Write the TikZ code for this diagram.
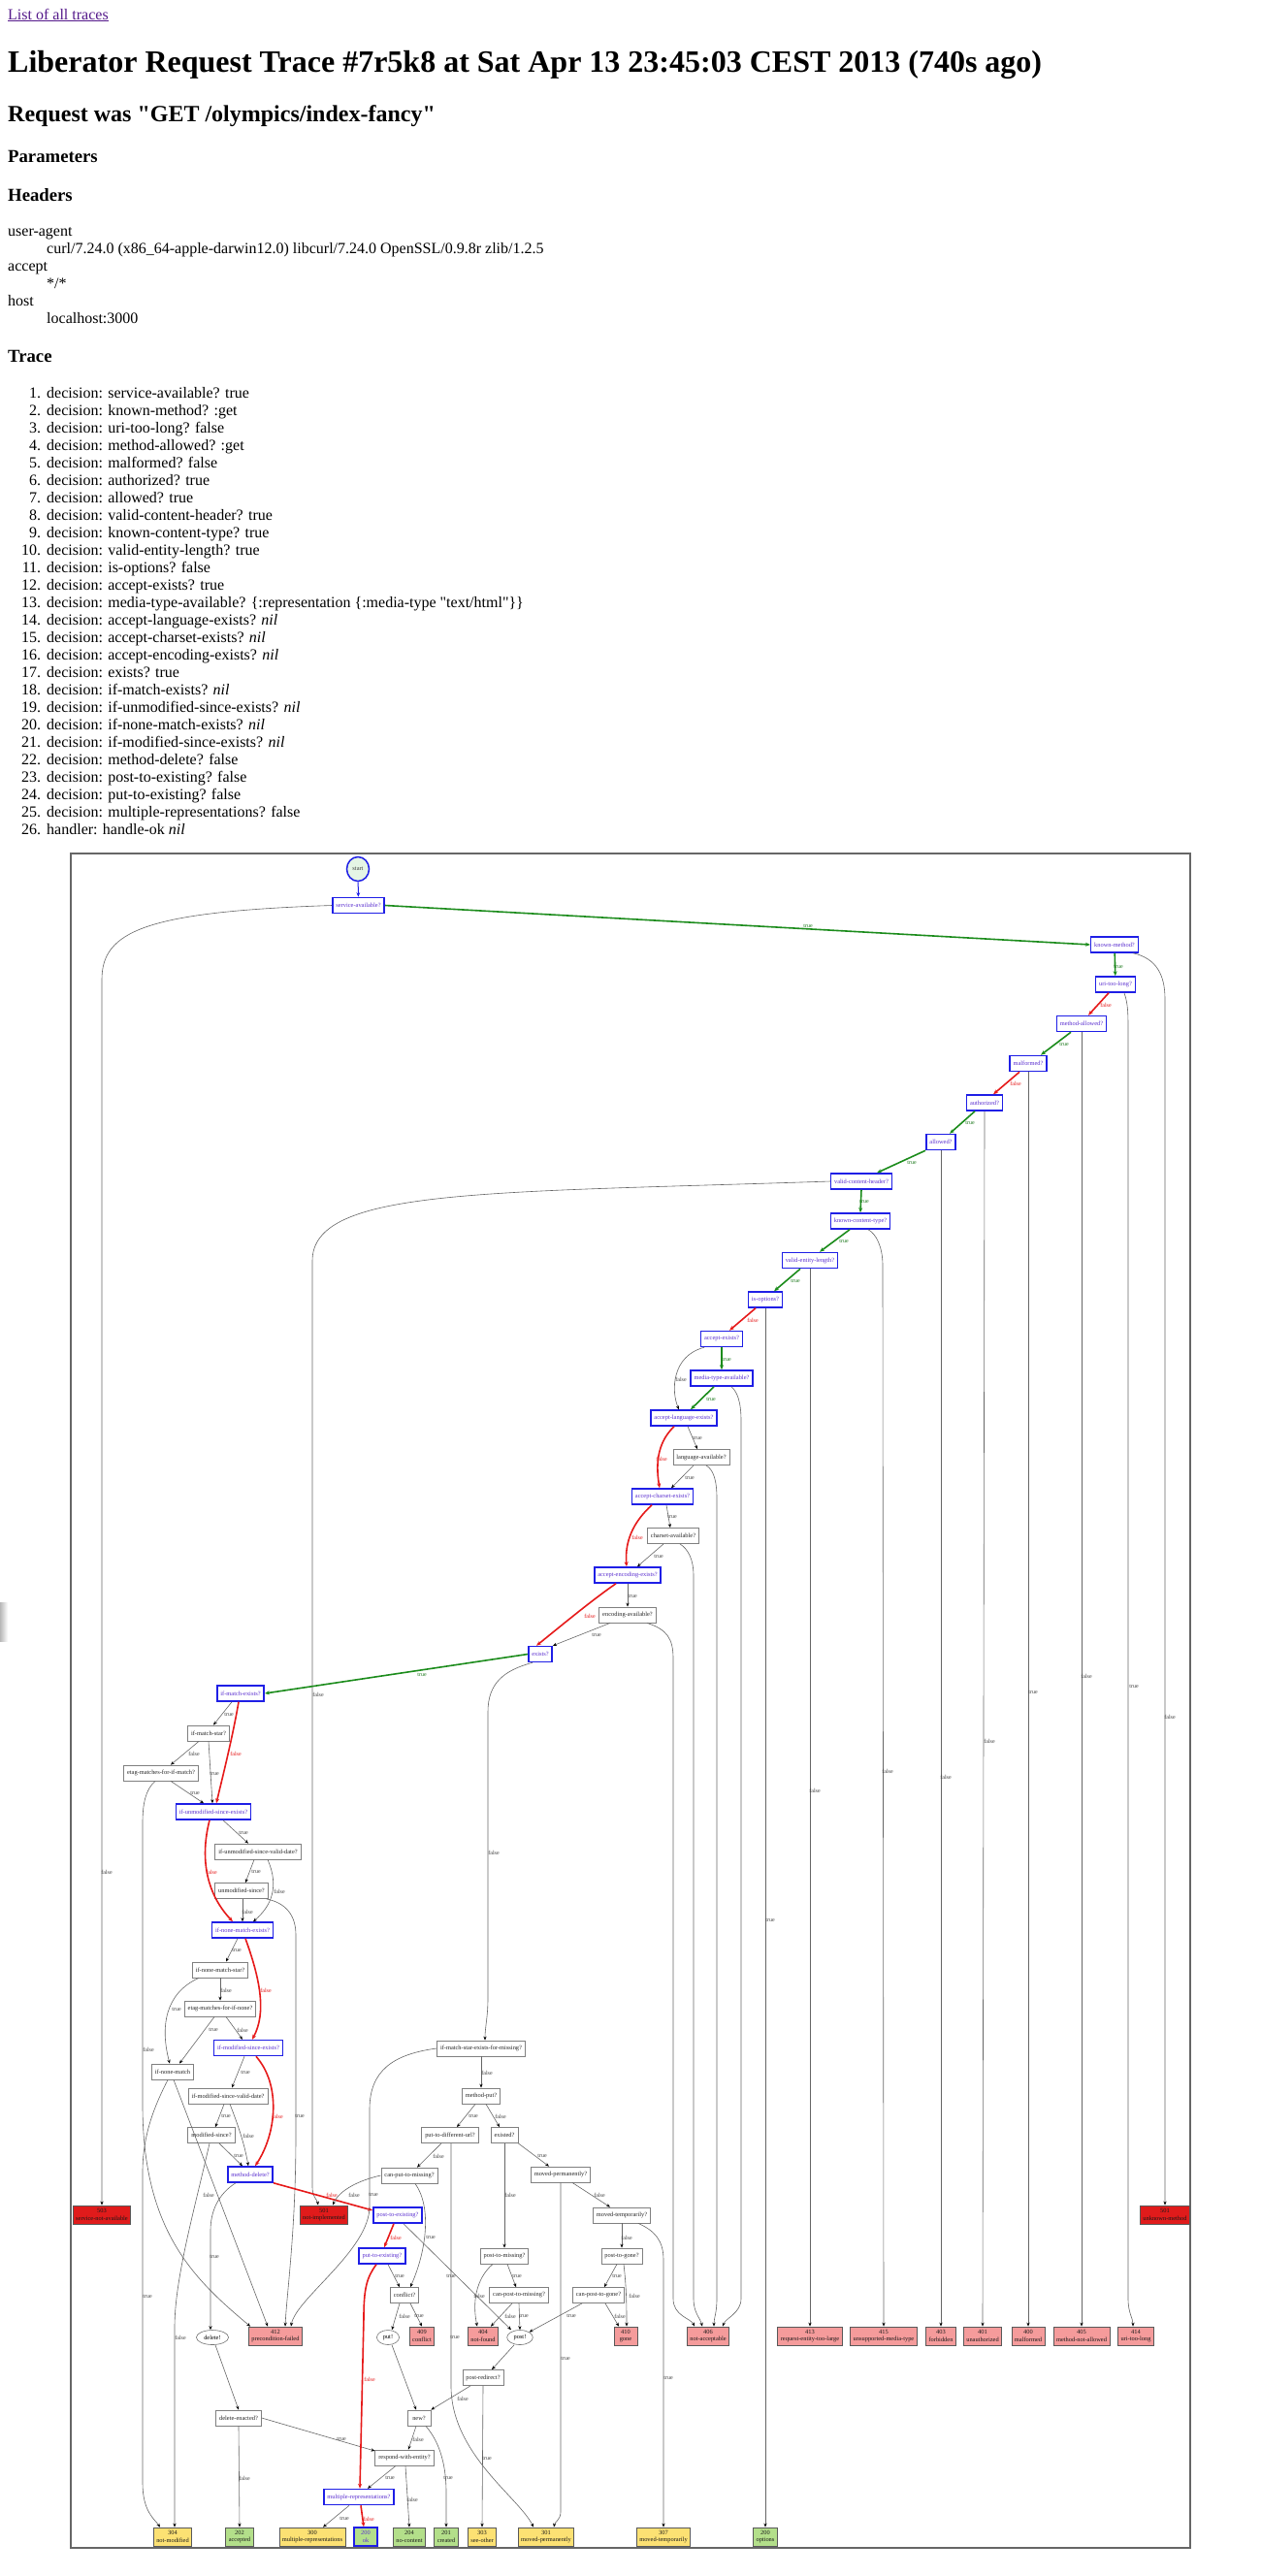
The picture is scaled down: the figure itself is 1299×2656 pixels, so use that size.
\documentclass[tikz,border=0pt]{standalone}
\usepackage{fontspec}
\setmainfont{Liberation Serif}[Ligatures=TeXOff]
\usetikzlibrary{arrows.meta,shapes.geometric}
\definecolor{vblue}{HTML}{1F1FE6}
\definecolor{vtext}{HTML}{5A2ED0}
\definecolor{tgreen}{HTML}{1C8C1C}
\definecolor{fred}{HTML}{E61A1A}
\definecolor{cfour}{HTML}{F59B9B}
\definecolor{cfive}{HTML}{E01B1B}
\definecolor{cthree}{HTML}{FCE173}
\definecolor{ctwo}{HTML}{B3DF8A}
\definecolor{startfill}{HTML}{E5F5E5}
\definecolor{linkc}{HTML}{551A8B}
\newcommand{\sq}{\symbol{34}}
\tikzset{
 gfont/.style={font=\fontsize{6.4}{7.6}\selectfont},
 dec/.style={gfont, draw=black!50, line width=0.8pt, fill=white, inner xsep=3.5pt, inner ysep=0pt, minimum height=16pt, minimum width=24pt, text=black!85},
 vdec/.style={dec, draw=vblue, line width=1.5pt, text=vtext},
 actn/.style={gfont, ellipse, draw=black!55, line width=0.6pt, fill=white, inner xsep=3pt, inner ysep=0pt, minimum height=15pt, minimum width=23pt},
 startn/.style={gfont, ellipse, draw=vblue, line width=1.5pt, fill=startfill, inner sep=0pt, minimum width=23pt, minimum height=25pt, text=black!75},
 hnd/.style={gfont, draw=black!65, line width=0.8pt, align=center, inner xsep=3pt, inner ysep=1pt, minimum height=19pt, minimum width=24pt, text=black!90},
 hfour/.style={hnd, fill=cfour}, hfive/.style={hnd, fill=cfive},
 hthree/.style={hnd, fill=cthree}, htwo/.style={hnd, fill=ctwo},
 e/.style={draw=black!60, line width=0.6pt, -{Stealth[length=4pt,width=3.2pt,black]}},
 et/.style={draw=tgreen, line width=1.6pt, -{Stealth[length=5pt,width=4pt]}},
 ef/.style={draw=fred, line width=1.6pt, -{Stealth[length=5pt,width=4pt]}},
 eb/.style={draw=vblue, line width=1pt, -{Stealth[length=4.5pt,width=3.6pt]}},
 lbl/.style={font=\fontsize{6}{7}\selectfont, text=black!75, inner sep=0pt},
 lt/.style={lbl, text=tgreen!85!black}, lf/.style={lbl, text=fred},
 ptxt/.style={anchor=base west, inner sep=0pt, font=\fontsize{16}{18}\selectfont},
 hthr/.style={anchor=base west, inner sep=0pt, font=\fontsize{18.72}{22}\selectfont\bfseries},
}
\begin{document}
\begin{tikzpicture}[x=1pt,y=-1pt]
\useasboundingbox (0,0) rectangle (1299,2656);
\fill[white] (0,0) rectangle (1299,2656);
\shade[left color=black!28, right color=white] (0,1652) rectangle (8,1692);

% ---------- page text ----------
\node[ptxt, text=linkc] (link) at (8,20) {\underline{List of all traces}};
\node[anchor=base west, inner sep=0pt, font=\fontsize{32}{36}\selectfont\bfseries] (title) at (8,74) {Liberator Request Trace \#7r5k8 at Sat Apr 13 23:45:03 CEST 2013 (740s ago)};
\node[anchor=base west, inner sep=0pt, font=\fontsize{24}{28}\selectfont\bfseries] (req) at (8,125) {Request was \sq GET /olympics/index-fancy\sq};
\node[hthr] (params) at (8,167) {Parameters};
\node[hthr] (headers) at (8,207) {Headers};
\node[ptxt] (ua) at (8,243) {user-agent};
\node[ptxt] (uav) at (48,261) {curl/7.24.0 (x86\_64-apple-darwin12.0) libcurl/7.24.0 OpenSSL/0.9.8r zlib/1.2.5};
\node[ptxt] (acc) at (8,279) {accept};
\node[ptxt] (accv) at (48,297) {*/*};
\node[ptxt] (host) at (8,315) {host};
\node[ptxt] (hostv) at (48,333) {localhost:3000};
\node[hthr] (trace) at (8,373) {Trace};
\foreach \i/\t in {
 1/{decision: service-available? true},
 2/{decision: known-method? :get},
 3/{decision: uri-too-long? false},
 4/{decision: method-allowed? :get},
 5/{decision: malformed? false},
 6/{decision: authorized? true},
 7/{decision: allowed? true},
 8/{decision: valid-content-header? true},
 9/{decision: known-content-type? true},
 10/{decision: valid-entity-length? true},
 11/{decision: is-options? false},
 12/{decision: accept-exists? true},
 13/{decision: media-type-available? \{:representation \{:media-type \sq text/html\sq\}\}},
 14/{decision: accept-language-exists? \textit{nil}},
 15/{decision: accept-charset-exists? \textit{nil}},
 16/{decision: accept-encoding-exists? \textit{nil}},
 17/{decision: exists? true},
 18/{decision: if-match-exists? \textit{nil}},
 19/{decision: if-unmodified-since-exists? \textit{nil}},
 20/{decision: if-none-match-exists? \textit{nil}},
 21/{decision: if-modified-since-exists? \textit{nil}},
 22/{decision: method-delete? false},
 23/{decision: post-to-existing? false},
 24/{decision: put-to-existing? false},
 25/{decision: multiple-representations? false},
 26/{handler: handle-ok \textit{nil}}}{
 \pgfmathsetmacro\yy{410+18*(\i-1)}
 \node[ptxt] (t\i) at (48,\yy) {\llap{\i.\hspace{6pt}}\t};
}

% ---------- frame ----------
\draw[draw=black!60, line width=1.5pt] (73,880) rectangle (1227,2627);

% ---------- decision nodes ----------
\node[startn] (start) at (369,896) {start};
\node[vdec] (sa) at (369.5,933.5) {service-available?};
\node[vdec] (km) at (1149,974) {known-method?};
\node[vdec] (utl) at (1150,1015) {uri-too-long?};
\node[vdec] (ma) at (1115,1055.5) {method-allowed?};
\node[vdec] (mal) at (1060,1096.5) {malformed?};
\node[vdec] (auth) at (1015,1137) {authorized?};
\node[vdec] (alw) at (970,1177.5) {allowed?};
\node[vdec] (vch) at (888,1218) {valid-content-header?};
\node[vdec] (kct) at (887,1259) {known-content-type?};
\node[vdec] (vel) at (835,1299.5) {valid-entity-length?};
\node[vdec] (opt) at (789,1340) {is-options?};
\node[vdec] (ae) at (744,1380.5) {accept-exists?};
\node[vdec] (mta) at (744,1421) {media-type-available?};
\node[vdec] (ale) at (705,1462) {accept-language-exists?};
\node[dec] (la) at (723,1502.5) {language-available?};
\node[vdec] (ace) at (683,1543) {accept-charset-exists?};
\node[dec] (ca) at (694,1583.5) {charset-available?};
\node[vdec] (aee) at (647,1624) {accept-encoding-exists?};
\node[dec] (ea) at (647,1665) {encoding-available?};
\node[vdec] (ex) at (557,1705.5) {exists?};
\node[vdec] (ime) at (248,1746) {if-match-exists?};
\node[dec] (ims) at (215,1787) {if-match-star?};
\node[dec] (emim) at (166,1828) {etag-matches-for-if-match?};
\node[vdec] (iuse) at (220,1868) {if-unmodified-since-exists?};
\node[dec] (iusvd) at (266,1909) {if-unmodified-since-valid-date?};
\node[dec] (us) at (249,1949.5) {unmodified-since?};
\node[vdec] (inme) at (250,1990) {if-none-match-exists?};
\node[dec] (inms) at (227,2031) {if-none-match-star?};
\node[dec] (emin) at (227,2071) {etag-matches-for-if-none?};
\node[vdec] (imse) at (256,2111.5) {if-modified-since-exists?};
\node[dec] (inm) at (178,2136) {if-none-match};
\node[dec] (imsvd) at (235,2161) {if-modified-since-valid-date?};
\node[dec] (msince) at (218,2201.5) {modified-since?};
\node[vdec] (md) at (258,2242) {method-delete?};
\node[dec] (imsefm) at (496,2112) {if-match-star-exists-for-missing?};
\node[dec] (mput) at (496,2161) {method-put?};
\node[dec] (ptdu) at (464,2201.5) {put-to-different-url?};
\node[dec] (existed) at (520,2201.5) {existed?};
\node[dec] (cptm) at (422,2243) {can-put-to-missing?};
\node[dec] (mperm) at (578,2242) {moved-permanently?};
\node[vdec] (pte) at (410,2284) {post-to-existing?};
\node[dec] (mtemp) at (641,2284) {moved-temporarily?};
\node[vdec] (ptex) at (394,2326) {put-to-existing?};
\node[dec] (ptm) at (520,2326) {post-to-missing?};
\node[dec] (ptg) at (641,2326) {post-to-gone?};
\node[dec] (conf) at (417,2366.5) {conflict?};
\node[dec] (cpm) at (535,2366.5) {can-post-to-missing?};
\node[dec] (cpg) at (617,2366.5) {can-post-to-gone?};
\node[actn] (del) at (219,2410) {delete!};
\node[actn] (put) at (400,2410) {put!};
\node[actn] (post) at (536,2410) {post!};
\node[dec] (pr) at (498,2451.5) {post-redirect?};
\node[dec] (de) at (246,2493) {delete-enacted?};
\node[dec] (new) at (432,2493) {new?};
\node[dec] (rwe) at (417,2534) {respond-with-entity?};
\node[vdec] (mr) at (370,2574.5) {multiple-representations?};

% ---------- handler nodes ----------
\node[hfive] (h503) at (105,2283.5) {503\\service-not-available};
\node[hfive] (h501ni) at (334,2283.5) {501\\not-implemented};
\node[hfive] (h501um) at (1201,2283.5) {501\\unknown-method};
\node[hfour] (h412) at (284,2408.5) {412\\precondition-failed};
\node[hfour] (h409) at (435,2408.5) {409\\conflict};
\node[hfour] (h404) at (498,2408.5) {404\\not-found};
\node[hfour] (h410) at (645,2408.5) {410\\gone};
\node[hfour] (h406) at (730,2408.5) {406\\not-acceptable};
\node[hfour] (h413) at (835,2408.5) {413\\request-entity-too-large};
\node[hfour] (h415) at (911,2408.5) {415\\unsupported-media-type};
\node[hfour] (h403) at (970,2408.5) {403\\forbidden};
\node[hfour] (h401) at (1013,2408.5) {401\\unauthorized};
\node[hfour] (h400) at (1060,2408.5) {400\\malformed};
\node[hfour] (h405) at (1115,2408.5) {405\\method-not-allowed};
\node[hfour] (h414) at (1171,2408.5) {414\\uri-too-long};
\node[hthree] (h304) at (178,2615.5) {304\\not-modified};
\node[htwo] (h202) at (247,2615.5) {202\\accepted};
\node[hthree] (h300) at (322,2615.5) {300\\multiple-representations};
\node[htwo, draw=vblue, line width=1.5pt, text=vtext] (h200) at (377,2615.5) {200\\ok};
\node[htwo] (h204) at (422,2615.5) {204\\no-content};
\node[htwo] (h201) at (460,2615.5) {201\\created};
\node[hthree] (h303) at (497,2615.5) {303\\see-other};
\node[hthree] (h301) at (563,2615.5) {301\\moved-permanently};
\node[hthree] (h307) at (684,2615.5) {307\\moved-temporarily};
\node[htwo] (h200o) at (789,2615.5) {200\\options};

% ---------- edges: main chain ----------
\draw[eb] (start) -- (sa);
\draw[et] (sa.east) -- (km.west);
\draw[e] (sa.west) .. controls (150,940) and (105,960) .. (105,1010) -- (h503.north);
\draw[et] (km) -- (utl);
\draw[e] ([xshift=-6pt]km.south east) .. controls (1192,988) and (1201,1005) .. (1201,1030) -- (h501um.north);
\draw[ef] ([xshift=-7pt]utl.south) -- ([xshift=7pt]ma.north);
\draw[e] ([xshift=9pt]utl.south) .. controls (1163,1035) and (1163,1045) .. (1163,1065) -- (1163,2370) .. controls (1163,2385) and (1168,2390) .. ([xshift=-3pt]h414.north);
\draw[et] ([xshift=-11pt]ma.south) -- ([xshift=13pt]mal.north);
\draw[e] (ma.south) -- (h405.north);
\draw[ef] ([xshift=-9pt]mal.south) -- ([xshift=9pt]auth.north);
\draw[e] (mal.south) -- (h400.north);
\draw[et] ([xshift=-10pt]auth.south) -- ([xshift=9pt]alw.north);
\draw[e] (auth.south) -- (h401.north);
\draw[et] ([xshift=-16pt]alw.south) -- ([xshift=16pt]vch.north);
\draw[e] (alw.south) -- (h403.north);
\draw[et] (vch.south) -- (kct.north);
\draw[e] (vch.west) .. controls (500,1230) and (322,1225) .. (322,1300) -- (322,2255) .. controls (322,2265) and (327,2268) .. ([xshift=-6pt]h501ni.north);
\draw[et] ([xshift=-11pt]kct.south) -- ([xshift=10pt]vel.north);
\draw[e] ([xshift=8pt]kct.south) .. controls (903,1272) and (910,1285) .. (910,1305) -- (h415.north);
\draw[et] ([xshift=-10pt]vel.south) -- ([xshift=9pt]opt.north);
\draw[e] (vel.south) -- (h413.north);
\draw[ef] ([xshift=-10pt]opt.south) -- ([xshift=8pt]ae.north);
\draw[e] (opt.south) -- (h200o.north);
\draw[et] (ae.south) -- (mta.north);
\draw[e] ([xshift=-18pt]ae.south) .. controls (692,1398) and (692,1435) .. ([xshift=-5pt]ale.north);
\draw[et] ([xshift=-8pt]mta.south) -- ([xshift=7pt]ale.north);
\draw[e] ([xshift=10pt]mta.south) .. controls (760,1435) and (764,1445) .. (764,1465) -- (764,2370) .. controls (764,2385) and (748,2390) .. ([xshift=15pt]h406.north);
\draw[e] ([xshift=4pt]ale.south) -- ([xshift=-4pt]la.north);
\draw[ef] ([xshift=-10pt]ale.south) .. controls (680,1485) and (675,1505) .. ([xshift=-3pt]ace.north);
\draw[e] ([xshift=-8pt]la.south) -- ([xshift=9pt]ace.north);
\draw[e] ([xshift=5pt]la.south) .. controls (735,1515) and (739,1525) .. (739,1545) -- (739,2370) .. controls (739,2385) and (736,2390) .. ([xshift=6pt]h406.north);
\draw[e] ([xshift=4pt]ace.south) -- ([xshift=-3pt]ca.north);
\draw[ef] ([xshift=-11pt]ace.south) .. controls (652,1570) and (644,1590) .. ([xshift=-1pt]aee.north);
\draw[e] ([xshift=-10pt]ca.south) -- ([xshift=10pt]aee.north);
\draw[e] ([xshift=7pt]ca.south) .. controls (709,1597) and (715,1607) .. (715,1625) -- (715,2370) .. controls (715,2385) and (722,2390) .. ([xshift=-6pt]h406.north);
\draw[e] (aee.south) -- (ea.north);
\draw[ef] ([xshift=-12pt]aee.south) .. controls (610,1650) and (580,1675) .. ([xshift=-4pt]ex.north);
\draw[e] ([xshift=-18pt]ea.south) -- (ex.north east);
\draw[e] ([xshift=20pt]ea.south) .. controls (688,1680) and (694,1690) .. (694,1710) -- (694,2370) .. controls (694,2388) and (712,2390) .. ([xshift=-14pt]h406.north);
\draw[et] (ex.west) -- (ime.east);
\draw[e] ([xshift=-8pt]ex.south) .. controls (520,1722) and (503,1735) .. (503,1765) -- (503,2060) .. controls (503,2080) and (500,2090) .. ([xshift=4pt]imsefm.north);

% ---------- edges: conditional requests ----------
\draw[e] ([xshift=-9pt]ime.south) -- ([xshift=5pt]ims.north);
\draw[ef] ([xshift=-2pt]ime.south) .. controls (240,1790) and (230,1830) .. ([xshift=3pt]iuse.north);
\draw[e] ([xshift=-10pt]ims.south) -- ([xshift=10pt]emim.north);
\draw[e] (ims.south) -- ([xshift=-1pt]iuse.north);
\draw[e] ([xshift=10pt]emim.south) -- ([xshift=-10pt]iuse.north);
\draw[e] ([xshift=-6pt]emim.south) .. controls (150,1845) and (147,1860) .. (147,1880) -- (147,2170) .. controls (147,2300) and (200,2350) .. ([xshift=2pt]h412.north west);
\draw[e] ([xshift=10pt]iuse.south) -- ([xshift=-10pt]iusvd.north);
\draw[ef] ([xshift=-4pt]iuse.south) .. controls (205,1920) and (215,1955) .. ([xshift=-10pt]inme.north);
\draw[e] ([xshift=-4pt]iusvd.south) -- ([xshift=4pt]us.north);
\draw[e] ([xshift=10pt]iusvd.south) .. controls (288,1945) and (280,1965) .. ([xshift=11pt]inme.north);
\draw[e] ([xshift=1pt]us.south) -- (inme.north);
\draw[e] ([xshift=-2pt]us.south east) .. controls (295,1962) and (305,1975) .. (305,1995) -- (305,2200) .. controls (305,2300) and (296,2360) .. ([xshift=10pt]h412.north);
\draw[e] ([xshift=-5pt]inme.south) -- ([xshift=6pt]inms.north);
\draw[ef] ([xshift=3pt]inme.south) .. controls (268,2040) and (275,2075) .. ([xshift=4pt]imse.north);
\draw[e] (inms.south) -- (emin.north);
\draw[e] ([xshift=-22pt]inms.south) .. controls (170,2055) and (165,2090) .. ([xshift=-3pt]inm.north);
\draw[e] ([xshift=-6pt]emin.south) -- ([xshift=7pt]inm.north);
\draw[e] ([xshift=6pt]emin.south) -- ([xshift=-6pt]imse.north);
\draw[e] ([xshift=-5pt]inm.south) .. controls (160,2170) and (147,2200) .. (147,2240) -- (147,2560) .. controls (147,2590) and (160,2598) .. ([xshift=-13pt]h304.north);
\draw[e] ([xshift=1pt]inm.south) -- ([xshift=-8pt]h412.north);
\draw[e] ([xshift=-4pt]imse.south) -- ([xshift=4pt]imsvd.north);
\draw[ef] ([xshift=8pt]imse.south) .. controls (290,2150) and (285,2200) .. ([xshift=5pt]md.north);
\draw[e] ([xshift=-4pt]imsvd.south) -- ([xshift=4pt]msince.north);
\draw[e] ([xshift=2pt]imsvd.south) .. controls (245,2190) and (252,2210) .. ([xshift=-2pt]md.north);
\draw[e] ([xshift=8pt]msince.south) -- ([xshift=-8pt]md.north);
\draw[e] ([xshift=-2pt]msince.south) .. controls (200,2280) and (180,2350) .. (180,2400) -- ([xshift=2pt]h304.north);

% ---------- edges: methods ----------
\draw[ef] (md.south east) -- ([yshift=5pt]pte.west);
\draw[e] ([xshift=-15pt]md.south) .. controls (225,2262) and (217,2280) .. (217,2300) -- ([xshift=-2pt]del.north);
\draw[e] ([xshift=3pt]del.south) -- (de.north);
\draw[e] (de.east) -- ([yshift=7pt]rwe.west);
\draw[e] (de.south) -- (h202.north);
\draw[ef] ([xshift=-4pt]pte.south) -- ([xshift=2pt]ptex.north);
\draw[e] ([xshift=6pt]pte.south) -- ([xshift=-9pt]post.north);
\draw[e] ([xshift=6pt]ptex.south) -- ([xshift=-5pt]conf.north);
\draw[ef] ([xshift=-6pt]ptex.south) .. controls (378,2348) and (375,2360) .. (375,2390) -- ([xshift=1pt]mr.north);
\draw[e] ([xshift=-5pt]conf.south) -- ([xshift=4pt]put.north);
\draw[e] ([xshift=6pt]conf.south) -- (h409.north);
\draw[e] ([xshift=4pt]put.south) -- ([xshift=-3pt]new.north);
\draw[e] ([xshift=-3pt]new.south) -- ([xshift=4pt]rwe.north);
\draw[e] ([xshift=7pt]new.south) .. controls (455,2520) and (460,2545) .. (460,2570) -- (h201.north);
\draw[e] ([xshift=-9pt]rwe.south) -- ([xshift=9pt]mr.north);
\draw[e] ([xshift=1pt]rwe.south) -- (h204.north);
\draw[e] ([xshift=-10pt]mr.south) -- ([xshift=11pt]h300.north);
\draw[ef] ([xshift=2pt]mr.south) -- ([xshift=-2pt]h200.north);
\draw[e] ([xshift=-6pt]post.south) -- ([xshift=9pt]pr.north);
\draw[e] ([xshift=-13pt]pr.south) -- (new.north east);
\draw[e] (pr.south) -- (h303.north);
\draw[e] (imsefm.south) -- (mput.north);
\draw[e] (imsefm.west) .. controls (405,2118) and (381,2135) .. (381,2175) -- (381,2275) .. controls (381,2320) and (305,2370) .. ([xshift=16pt]h412.north);
\draw[e] ([xshift=-6pt]mput.south) -- ([xshift=7pt]ptdu.north);
\draw[e] ([xshift=5pt]mput.south) -- ([xshift=-5pt]existed.north);
\draw[e] ([xshift=-9pt]ptdu.south) -- ([xshift=8pt]cptm.north);
\draw[e] ([xshift=1pt]ptdu.south) -- (465,2460) .. controls (465,2530) and (535,2575) .. ([xshift=-13pt]h301.north);
\draw[e] ([xshift=6pt]cptm.south) .. controls (445,2275) and (440,2320) .. ([xshift=6pt]conf.north);
\draw[e] (cptm.west) .. controls (370,2248) and (350,2258) .. ([xshift=9pt]h501ni.north);
\draw[e] (existed.south east) -- ([xshift=-12pt]mperm.north);
\draw[e] (existed.south) -- (ptm.north);
\draw[e] ([xshift=12pt]mperm.south) -- ([xshift=-12pt]mtemp.north);
\draw[e] (mperm.south) -- (578,2590) .. controls (578,2598) and (572,2600) .. ([xshift=8pt]h301.north);
\draw[e] (mtemp.south) -- (ptg.north);
\draw[e] ([xshift=17pt]mtemp.south) .. controls (675,2300) and (684,2310) .. (684,2330) -- (h307.north);
\draw[e] ([xshift=-5pt]ptg.south) -- ([xshift=6pt]cpg.north);
\draw[e] ([xshift=2pt]ptg.south) .. controls (646,2360) and (646,2380) .. ([xshift=1pt]h410.north);
\draw[e] ([xshift=-17pt]cpg.south) -- (post.north east);
\draw[e] ([xshift=7pt]cpg.south) -- ([xshift=-7pt]h410.north);
\draw[e] ([xshift=3pt]ptm.south) -- ([xshift=-3pt]cpm.north);
\draw[e] ([xshift=-12pt]ptm.south) .. controls (490,2350) and (487,2375) .. ([xshift=-6pt]h404.north);
\draw[e] ([xshift=-7pt]cpm.south) -- ([xshift=8pt]h404.north);
\draw[e] (cpm.south) -- (post.north);

% ---------- edge labels ----------
\node[lt] (l1) at (833,955) {true};
\node[lt] (l2) at (1153,997) {true};
\node[lt] (l3) at (1097,1077) {true};
\node[lt] (l4) at (1000,1158) {true};
\node[lt] (l5) at (940,1199) {true};
\node[lt] (l6) at (891,1239) {true};
\node[lt] (l7) at (870,1280) {true};
\node[lt] (l8) at (820,1321) {true};
\node[lt] (l9) at (749,1402) {true};
\node[lt] (l10) at (733,1443) {true};
\node[lt] (l11) at (435,1727) {true};
\node[lf] (l12) at (1140,1036) {false};
\node[lf] (l13) at (1047,1117) {false};
\node[lf] (l14) at (776,1361) {false};
\node[lf] (l15) at (682,1504) {false};
\node[lf] (l16) at (657,1585) {false};
\node[lf] (l17) at (608,1666) {false};
\node[lf] (l18) at (243,1808) {false};
\node[lf] (l19) at (218,1930) {false};
\node[lf] (l20) at (274,2052) {false};
\node[lf] (l21) at (286,2182) {false};
\node[lf] (l22) at (342,2263) {false};
\node[lf] (l23) at (408,2307) {false};
\node[lf] (l24) at (381,2453) {false};
\node[lf] (l25) at (380,2597) {false};
\node[lbl] (m1) at (702,1422) {false};
\node[lbl] (m2) at (719,1483) {true};
\node[lbl] (m3) at (711,1524) {true};
\node[lbl] (m4) at (693,1564) {true};
\node[lbl] (m5) at (679,1605) {true};
\node[lbl] (m6) at (652,1646) {true};
\node[lbl] (m7) at (615,1686) {true};
\node[lbl] (m8) at (236,1768) {true};
\node[lbl] (m9) at (200,1808) {false};
\node[lbl] (m10) at (221,1829) {true};
\node[lbl] (m11) at (201,1849) {true};
\node[lbl] (m12) at (251,1890) {true};
\node[lbl] (m13) at (264,1930) {true};
\node[lbl] (m14) at (288,1950) {false};
\node[lbl] (m15) at (255,1971) {false};
\node[lbl] (m16) at (244,2011) {true};
\node[lbl] (m17) at (233,2052) {false};
\node[lbl] (m18) at (182,2072) {true};
\node[lbl] (m19) at (220,2093) {true};
\node[lbl] (m20) at (250,2093) {false};
\node[lbl] (m21) at (153,2113) {false};
\node[lbl] (m22) at (253,2137) {true};
\node[lbl] (m23) at (233,2182) {true};
\node[lbl] (m24) at (256,2202) {false};
\node[lbl] (m25) at (246,2223) {true};
\node[lbl] (m26) at (309,2182) {true};
\node[lbl] (m27) at (221,2327) {true};
\node[lbl] (m28) at (215,2263) {false};
\node[lbl] (m29) at (152,2368) {true};
\node[lbl] (m30) at (186,2410) {false};
\node[lbl] (m31) at (365,2263) {false};
\node[lbl] (m32) at (385,2263) {true};
\node[lbl] (m33) at (502,2137) {false};
\node[lbl] (m34) at (488,2182) {true};
\node[lbl] (m35) at (516,2182) {false};
\node[lbl] (m36) at (452,2223) {false};
\node[lbl] (m37) at (559,2223) {true};
\node[lbl] (m38) at (444,2307) {true};
\node[lbl] (m39) at (412,2347) {true};
\node[lbl] (m40) at (465,2347) {true};
\node[lbl] (m41) at (469,2410) {true};
\node[lbl] (m42) at (526,2263) {false};
\node[lbl] (m43) at (533,2347) {true};
\node[lbl] (m44) at (494,2367) {false};
\node[lbl] (m45) at (526,2388) {false};
\node[lbl] (m46) at (540,2388) {true};
\node[lbl] (m47) at (417,2388) {false};
\node[lbl] (m48) at (432,2388) {true};
\node[lbl] (m49) at (618,2263) {false};
\node[lbl] (m50) at (646,2307) {false};
\node[lbl] (m51) at (636,2347) {true};
\node[lbl] (m52) at (654,2367) {false};
\node[lbl] (m53) at (639,2388) {false};
\node[lbl] (m54) at (589,2388) {true};
\node[lbl] (m55) at (583,2432) {true};
\node[lbl] (m56) at (689,2452) {true};
\node[lbl] (m57) at (477,2473) {false};
\node[lbl] (m58) at (352,2515) {true};
\node[lbl] (m59) at (431,2515) {false};
\node[lbl] (m60) at (462,2555) {true};
\node[lbl] (m61) at (502,2535) {true};
\node[lbl] (m62) at (402,2555) {true};
\node[lbl] (m63) at (425,2577) {false};
\node[lbl] (m64) at (252,2555) {false};
\node[lbl] (m65) at (355,2597) {true};
\node[lbl] (m66) at (328,1747) {false};
\node[lbl] (m67) at (509,1910) {false};
\node[lbl] (m68) at (110,1930) {false};
\node[lbl] (m69) at (1206,1770) {false};
\node[lbl] (m70) at (1169,1739) {true};
\node[lbl] (m71) at (1120,1728) {false};
\node[lbl] (m72) at (1065,1745) {true};
\node[lbl] (m73) at (1020,1795) {false};
\node[lbl] (m74) at (975,1832) {false};
\node[lbl] (m75) at (915,1826) {false};
\node[lbl] (m76) at (840,1846) {false};
\node[lbl] (m77) at (794,1980) {true};
\end{tikzpicture}
\end{document}
